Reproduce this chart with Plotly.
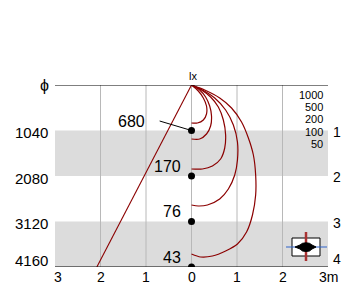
import plotly.graph_objects as go

# ---------------- data ----------------
depth_levels = [1040, 2080, 3120, 4160]
left_tick_labels = ["1040", "2080", "3120", "4160"]
right_tick_labels = ["1", "2", "3", "4"]
point_labels = ["680", "170", "76", "43"]
x_tick_vals = [-3, -2, -1, 0, 1, 2, 3]
x_tick_labels = ["3", "2", "1", "0", "1", "2", "3m"]
grid_x = [-2, -1, 0, 1, 2]
band_ranges = [(1040, 2080), (3120, 4160)]
scale_labels = ["1000", "500", "200", "100", "50"]

curve1_x = [0, 0.15, 0.26, 0.33, 0.33, 0.26, 0.13, 0]
curve1_y = [0, 137, 297, 480, 663, 800, 869, 869]
curve2_x = [0, 0.18, 0.31, 0.40, 0.44, 0.42, 0.33, 0.18, 0]
curve2_y = [0, 114, 274, 480, 709, 937, 1120, 1234, 1234]
curve3_x = [0, 0.22, 0.42, 0.59, 0.70, 0.75, 0.73, 0.64, 0.46, 0.24, 0]
curve3_y = [0, 114, 274, 503, 800, 1143, 1440, 1691, 1851, 1920, 1920]
curve4_x = [0, 0.24, 0.51, 0.75, 0.92, 1.01, 1.01, 0.95, 0.81, 0.62, 0.35, 0.15, 0]
curve4_y = [0, 114, 297, 571, 914, 1303, 1714, 2057, 2377, 2606, 2743, 2766, 2743]
curve5_x = [0, 0.29, 0.62, 0.88, 1.10, 1.25, 1.36, 1.41, 1.41, 1.34, 1.21, 1.01, 0.75, 0.46, 0.20, 0]
curve5_y = [0, 114, 297, 526, 846, 1211, 1600, 2057, 2514, 2971, 3360, 3634, 3794, 3909, 3931, 3863]

ray_x = [0, -2.08]
ray_y = [0, 4160]
leader_x = [-0.70, 0.0]
leader_y = [823, 1040]

# ---------------- figure ----------------
W, H = 360, 308
ML, MR, MT, MB = 55, 32, 85, 41
PW, PH = W - ML - MR, H - MT - MB
FONT = "Liberation Sans, Arial, sans-serif"
RED = "#8b0000"


def px2paper(px, py):
    return (px - ML) / PW, (MT + PH - py) / PH


fig = go.Figure()

for cx, cy in [(curve1_x, curve1_y), (curve2_x, curve2_y), (curve3_x, curve3_y),
               (curve4_x, curve4_y), (curve5_x, curve5_y)]:
    fig.add_trace(go.Scatter(x=cx, y=cy, mode="lines",
                             line=dict(color=RED, width=1.2, shape="spline", smoothing=0.8),
                             hoverinfo="skip"))

fig.add_trace(go.Scatter(x=ray_x, y=ray_y, mode="lines",
                         line=dict(color=RED, width=1.1), hoverinfo="skip"))
fig.add_trace(go.Scatter(x=leader_x, y=leader_y, mode="lines",
                         line=dict(color="black", width=1), hoverinfo="skip"))
fig.add_trace(go.Scatter(x=[0] * len(depth_levels), y=depth_levels, mode="markers",
                         marker=dict(color="black", size=7), hoverinfo="skip"))

shapes = []
for y0, y1 in band_ranges:
    shapes.append(dict(type="rect", xref="paper", x0=0, x1=1, yref="y", y0=y0, y1=y1,
                       fillcolor="#dcdcdc", line=dict(width=0), layer="below"))
for gx in grid_x:
    shapes.append(dict(type="line", xref="x", x0=gx, x1=gx, yref="y", y0=0, y1=depth_levels[-1],
                       line=dict(color="#b8b8b8", width=1), layer="below"))
shapes.append(dict(type="line", xref="paper", x0=0, x1=1, yref="y", y0=0, y1=0,
                   line=dict(color="black", width=1)))
shapes.append(dict(type="line", xref="paper", x0=0, x1=1, yref="y",
                   y0=depth_levels[-1], y1=depth_levels[-1], line=dict(color="black", width=1)))

# inset symbol (bottom right)
bx0, by0 = px2paper(292, 256)
bx1, by1 = px2paper(320, 238)
shapes.append(dict(type="rect", xref="paper", yref="paper", x0=bx0, x1=bx1, y0=by0, y1=by1,
                   fillcolor="white", line=dict(color="black", width=1)))
lx0, ly = px2paper(286, 247)
lx1, _ = px2paper(327, 247)
shapes.append(dict(type="line", xref="paper", yref="paper", x0=lx0, x1=lx1, y0=ly, y1=ly,
                   line=dict(color="#2e62c8", width=1)))
vx, vy0 = px2paper(306, 261)
_, vy1 = px2paper(306, 232)
shapes.append(dict(type="line", xref="paper", yref="paper", x0=vx, x1=vx, y0=vy0, y1=vy1,
                   line=dict(color="#a83232", width=2.5)))
dpts = [(295, 247), (300, 245), (302.5, 243.3), (306, 242.8), (309.5, 243.3), (312, 245),
        (316, 247), (312, 249), (309.5, 251), (306, 251.5), (302.5, 251), (300, 249)]
path = "M " + " L ".join("%.5f %.5f" % px2paper(a, b) for a, b in dpts) + " Z"
shapes.append(dict(type="path", xref="paper", yref="paper", path=path,
                   fillcolor="black", line=dict(color="black", width=1)))

ann = []


def add_text(text, x, y, xref, yref, size, xanchor="center", yanchor="middle", xshift=0, yshift=0):
    ann.append(dict(text=text, x=x, y=y, xref=xref, yref=yref, showarrow=False,
                    xanchor=xanchor, yanchor=yanchor, xshift=xshift, yshift=yshift,
                    font=dict(family=FONT, size=size, color="#000000")))


# phi and source label
px_, py_ = px2paper(44, 84)
add_text("ϕ", px_, 0, "paper", "y", 16)
add_text("lx", 0, 0, "x", "y", 11, yshift=9, xshift=1)

# left / right depth labels
for i, (v, t) in enumerate(zip(depth_levels, left_tick_labels)):
    ys = 7 if i == len(depth_levels) - 1 else -2
    add_text(t, px2paper(50, 0)[0], v, "paper", "y", 15, xanchor="right", yshift=ys)
for i, (v, t) in enumerate(zip(depth_levels, right_tick_labels)):
    ys = 8 if i == len(depth_levels) - 1 else -1
    add_text(t, px2paper(337, 0)[0], v, "paper", "y", 14, yshift=ys)

# x labels
for v, t in zip(x_tick_vals, x_tick_labels):
    xs = 3 if v == x_tick_vals[0] else 0
    add_text(t, (v - x_tick_vals[0]) / (x_tick_vals[-1] - x_tick_vals[0]),
             px2paper(0, 277)[1], "paper", "paper", 14, xshift=xs)

# point labels
for i, (v, t) in enumerate(zip(depth_levels, point_labels)):
    if i == 0:
        add_text(t, 0, v, "x", "y", 16, xanchor="right", xshift=-45, yshift=9)
    else:
        add_text(t, 0, v, "x", "y", 16, xanchor="right", xshift=-9, yshift=10)

# scale labels (top right)
for i, t in enumerate(scale_labels):
    xx, yy = px2paper(325, 95 + 12.2 * i)
    add_text(t, xx, yy, "paper", "paper", 11, xanchor="right")

fig.update_layout(
    width=W, height=H, margin=dict(l=ML, r=MR, t=MT, b=MB),
    paper_bgcolor="white", plot_bgcolor="white", showlegend=False,
    xaxis=dict(range=[x_tick_vals[0], x_tick_vals[-1]], visible=False, fixedrange=True),
    yaxis=dict(range=[depth_levels[-1], 0], visible=False, fixedrange=True),
    shapes=shapes, annotations=ann,
)

fig.write_html("out.html")
